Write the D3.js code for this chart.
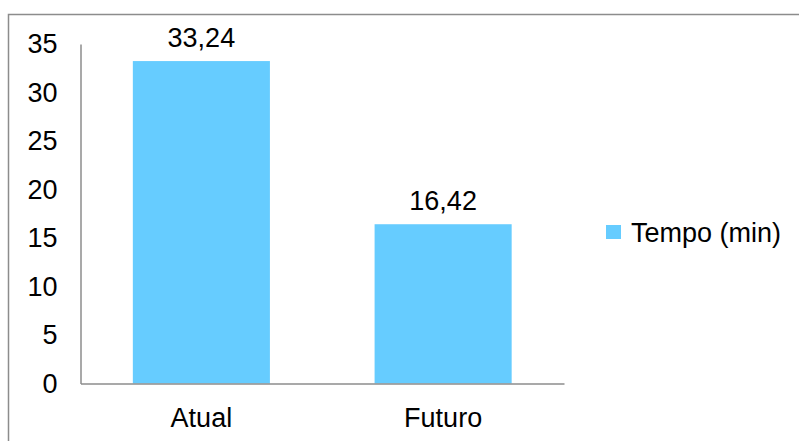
<!DOCTYPE html>
<html>
<head>
<meta charset="utf-8">
<script src="https://cdn.jsdelivr.net/npm/d3@7"></script>
<style>
  html, body { margin: 0; padding: 0; background: #fff; }
  svg { display: block; }
  text { font-family: "Liberation Sans", Arial, sans-serif; fill: #000; }
</style>
</head>
<body>
<svg id="chart" width="799" height="441"></svg>
<script>
const categories = ["Atual", "Futuro"];
const values = [33.24, 16.42];
const valueLabels = ["33,24", "16,42"];
const yTicks = [0, 5, 10, 15, 20, 25, 30, 35];
const seriesName = "Tempo (min)";

const svg = d3.select("#chart");
const fontSize = 27;
const barColor = "#66CCFF";
const axisColor = "#8c8c8c";

// chart border
svg.append("rect")
  .attr("x", 8.5).attr("y", 14.5)
  .attr("width", 800).attr("height", 440)
  .attr("fill", "none").attr("stroke", axisColor).attr("stroke-width", 1.5);

const plot = { left: 80.5, right: 564, top: 44, bottom: 383.5 };

const x = d3.scaleBand()
  .domain(categories)
  .range([plot.left, plot.right])
  .paddingInner(0.433)
  .paddingOuter(0.2165);

const y = d3.scaleLinear().domain([0, 35]).range([plot.bottom, plot.top]);

// bars
svg.selectAll("rect.bar")
  .data(categories)
  .enter().append("rect")
  .attr("class", "bar")
  .attr("x", d => x(d))
  .attr("width", x.bandwidth())
  .attr("y", (d, i) => y(values[i]))
  .attr("height", (d, i) => y(0) - y(values[i]))
  .attr("fill", barColor);

// value labels
svg.selectAll("text.val")
  .data(categories)
  .enter().append("text")
  .attr("class", "val")
  .attr("x", d => x(d) + x.bandwidth() / 2)
  .attr("y", (d, i) => y(values[i]) - 14)
  .attr("text-anchor", "middle")
  .attr("font-size", fontSize)
  .text((d, i) => valueLabels[i]);

// y axis
const yAxis = d3.axisLeft(y).tickValues(yTicks).tickSize(0).tickPadding(23);
const gy = svg.append("g").attr("transform", `translate(${plot.left},0)`).call(yAxis);
gy.select(".domain").attr("stroke", axisColor).attr("stroke-width", 1.5);
gy.selectAll("text").attr("font-size", fontSize)
  .style("font-family", '"Liberation Sans", Arial, sans-serif').attr("fill", "#000");

// x axis
const xAxis = d3.axisBottom(x).tickSize(0).tickPadding(0);
const gx = svg.append("g").attr("transform", `translate(0,${plot.bottom})`).call(xAxis);
gx.select(".domain").attr("stroke", axisColor).attr("stroke-width", 1.5);
gx.selectAll("text").attr("font-size", fontSize)
  .style("font-family", '"Liberation Sans", Arial, sans-serif').attr("fill", "#000")
  .attr("dy", null).attr("y", 43.5);

// legend
const lg = svg.append("g").attr("transform", "translate(606,225)");
lg.append("rect").attr("width", 15).attr("height", 14).attr("fill", barColor);
lg.append("text").attr("x", 25).attr("y", 16.5).attr("font-size", fontSize).text(seriesName);
</script>
</body>
</html>
